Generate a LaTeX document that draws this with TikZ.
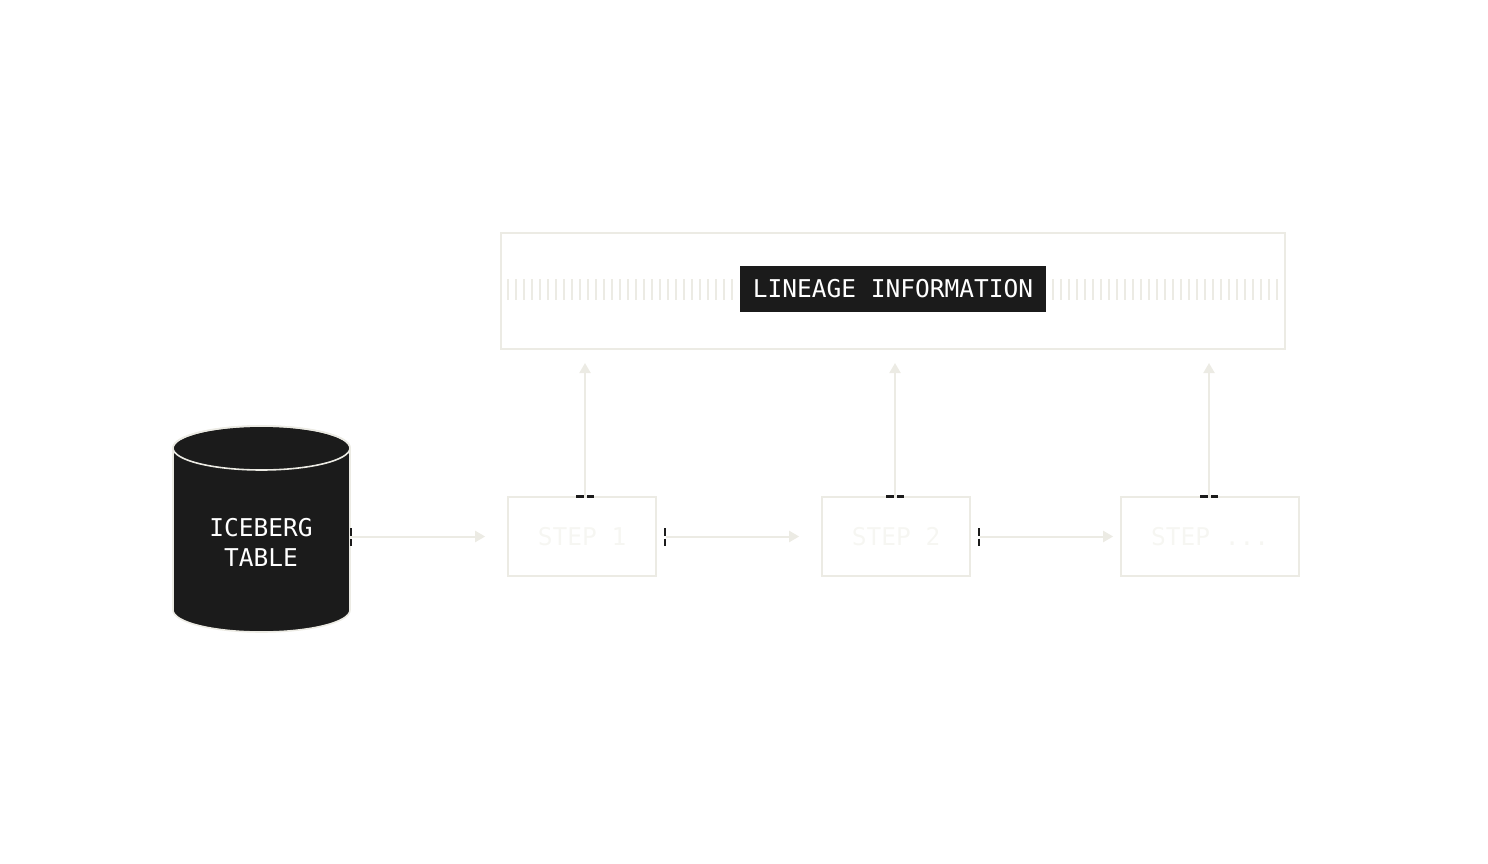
\documentclass[tikz,border=0pt]{standalone}
\usepackage{fontspec}
\setmonofont{DejaVu Sans Mono}
\usetikzlibrary{arrows.meta}
\definecolor{pale}{HTML}{ECEBE4}
\definecolor{faint}{HTML}{F6F6F2}
\definecolor{ink}{HTML}{1B1B1B}
\tikzset{
  mono/.style={font=\fontsize{24.5}{30}\selectfont\ttfamily},
  stepbox/.style={draw=pale, line width=1.6pt, minimum width=148pt, minimum height=79pt, text=faint, mono, inner sep=0pt},
  flow/.style={draw=pale, line width=2pt, -{Triangle[length=10pt,width=11pt]}},
  tick/.style={draw=ink, line width=2.2pt},
  hatch/.style={draw=pale, line width=1.8pt},
}
\begin{document}
\begin{tikzpicture}[x=1pt,y=-1pt]
\useasboundingbox (0,0) rectangle (1488,864);
% lineage box
\node[draw=pale, line width=1.6pt, minimum width=784pt, minimum height=116pt, inner sep=0pt] (lin) at (893,291) {};
\foreach \i in {0,...,28} {
  \draw[hatch] (508+8*\i,279) -- (508+8*\i,300);
  \draw[hatch] (1053+8*\i,279) -- (1053+8*\i,300);
}
\node[fill=ink, text=white, mono, minimum width=306pt, minimum height=46pt, inner sep=0pt] (lab) at (893,289) {\raisebox{-1.5pt}{LINEAGE INFORMATION}};
% cylinder
\filldraw[fill=ink, draw=pale, line width=1.6pt]
  (173,448) -- (173,610) arc[start angle=180, end angle=360, x radius=88.5pt, y radius=22pt]
  -- (350,448) arc[start angle=0, end angle=180, x radius=88.5pt, y radius=22pt] -- cycle;
\draw[pale, line width=1.6pt] (261.5,448) ellipse[x radius=88.5pt, y radius=22pt];
\node[inner sep=0pt, minimum width=177pt, minimum height=206pt] (ice) at (261.5,529) {};
\node[text=white, mono, align=center] (icet) at (261,542) {ICEBERG\\TABLE};
% steps
\node[stepbox] (s1) at (582,536.5) {\raisebox{1pt}{STEP 1}};
\node[stepbox] (s2) at (896,536.5) {\raisebox{1pt}{STEP 2}};
\node[stepbox, minimum width=178pt] (s3) at (1210,536.5) {\raisebox{1pt}{STEP ...}};
% horizontal flow
\draw[flow, shorten <=0.5pt, shorten >=22pt] (ice.east |- s1.west) -- (s1.west);
\draw[flow, shorten <=9pt, shorten >=22pt] (s1.east) -- (s2.west);
\draw[flow, shorten <=9pt, shorten >=7pt] (s2.east) -- (s3.west);
% vertical flow
\coordinate (u1) at (585,349);
\coordinate (u2) at (895,349);
\coordinate (u3) at (1209,349);
\draw[flow, shorten >=14pt] (s1.north -| u1) -- (u1);
\draw[flow, shorten >=14pt] (s2.north -| u2) -- (u2);
\draw[flow, shorten >=14pt] (s3.north -| u3) -- (u3);
% ticks
\foreach \x in {351, 665, 979} {
  \draw[tick] (\x,528) -- (\x,535.5);
  \draw[tick] (\x,538.5) -- (\x,546);
}
\foreach \x in {585, 895, 1209} {
  \draw[tick] (\x-9,496.5) -- (\x-1.5,496.5);
  \draw[tick] (\x+1.5,496.5) -- (\x+9,496.5);
}
\end{tikzpicture}
\end{document}
